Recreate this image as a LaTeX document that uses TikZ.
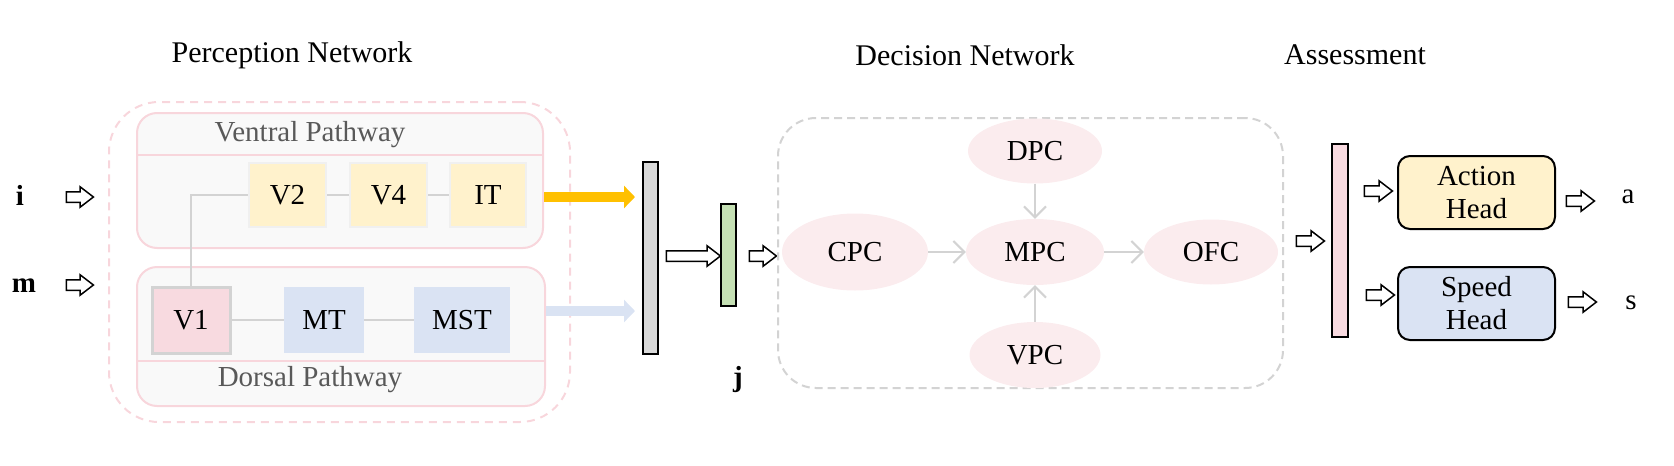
\documentclass[tikz,border=0pt]{standalone}
\usepackage{fontspec}
\setmainfont{Liberation Serif}
\usetikzlibrary{arrows.meta,shapes.geometric,shapes.arrows}
\definecolor{paneline}{RGB}{248,214,220}
\definecolor{paneback}{RGB}{249,249,249}
\definecolor{ventralfill}{RGB}{255,242,204}
\definecolor{dorsalfill}{RGB}{218,227,243}
\definecolor{vonefill}{RGB}{248,218,224}
\definecolor{areafill}{RGB}{251,236,238}
\definecolor{linkgray}{RGB}{211,211,211}
\definecolor{cellline}{RGB}{240,240,240}
\definecolor{labelgray}{RGB}{89,89,89}
\definecolor{ventralarrow}{RGB}{255,192,0}
\definecolor{jointfill}{RGB}{197,224,180}
\definecolor{fusefill}{RGB}{217,217,217}
\tikzset{
  txt/.style={font=\fontsize{29}{33}\selectfont},
  title/.style={font=\fontsize{30}{36}\selectfont},
  sym/.style={font=\fontsize{29}{33}\selectfont\bfseries},
  pane/.style={draw=paneline, line width=2pt, fill=paneback, rounded corners=20pt, minimum height=#1, inner sep=0pt},
  cell/.style={txt, fill=#1, minimum height=64pt, inner sep=0pt},
  region/.style={txt, ellipse, fill=areafill, minimum width=134pt, minimum height=65pt, inner sep=0pt},
  bar/.style={draw=black, line width=2pt, fill=#1, minimum width=15pt, inner sep=0pt},
  head/.style={txt, draw=black, line width=2pt, fill=#1, rounded corners=12pt, minimum width=157pt, minimum height=73pt, align=center},
  link/.style={draw=linkgray, line width=2pt},
  flow/.style={link, -{Straight Barb[length=11pt,width=22pt]}},
  feed/.style={draw=#1, line width=10pt, -{Triangle[length=11pt,width=22pt]}, shorten >=7pt},
  fat/.style={single arrow, draw=black, fill=white, line width=1.5pt, inner xsep=0pt, inner ysep=4.5pt, single arrow head extend=5pt, single arrow tip angle=75, minimum height=#1},
  fat/.default=27pt
}
\begin{document}
\begin{tikzpicture}[x=1pt,y=-1pt]
  \useasboundingbox (0,0) rectangle (1674,466);
  \node[title] (perception) at (292,55) {Perception Network};
  \node[title] (decision) at (965,55) {Decision Network};
  \node[title] (assessment) at (1355,55) {Assessment};
  \node[draw=paneline, line width=2pt, dash pattern=on 8pt off 6pt, rounded corners=50pt, minimum width=461pt, minimum height=320pt] (percbox) at (339.5,262) {};
  \node[pane=135pt, minimum width=406pt] (ventral) at (340,180.5) {};
  \draw[draw=paneline, line width=2pt] (ventral.west |- 0,155) -- (ventral.east |- 0,155);
  \node[txt, text=labelgray] (ventrallbl) at (310,135) {Ventral Pathway};
  \node[pane=139pt, minimum width=408pt] (dorsal) at (341,336.5) {};
  \draw[draw=paneline, line width=2pt] (dorsal.west |- 0,361) -- (dorsal.east |- 0,361);
  \node[txt, text=labelgray] (dorsallbl) at (310,380) {Dorsal Pathway};
  \node[cell=ventralfill, draw=cellline, line width=2.5pt, minimum width=77pt] (v2) at (287.5,195) {V2};
  \node[cell=ventralfill, draw=cellline, line width=2.5pt, minimum width=77pt] (v4) at (388.5,195) {V4};
  \node[cell=ventralfill, draw=cellline, line width=2.5pt, minimum width=76pt] (it) at (488,195) {IT};
  \node[cell=vonefill, draw=linkgray, line width=3pt, minimum width=78pt, minimum height=66pt] (v1) at (191,320) {V1};
  \node[cell=dorsalfill, minimum width=80pt, minimum height=66pt] (mt) at (324,320) {MT};
  \node[cell=dorsalfill, minimum width=96pt, minimum height=66pt] (mst) at (462,320) {MST};
  \draw[link] (v2.west) -| (v1.north);
  \draw[link] (v2.east) -- (v4.west);
  \draw[link] (v4.east) -- (it.west);
  \draw[link] (v1.east) -- (mt.west);
  \draw[link] (mt.east) -- (mst.west);
  \node[sym] (img) at (20,195) {i};
  \node[sym] (mot) at (24,286) {m};
  \node[fat] (imgarr) at (76.5,197) {};
  \node[fat] (motarr) at (76.5,285) {};
  \node[bar=fusefill, minimum height=192pt] (fuse) at (650.5,258) {};
  \node[bar=jointfill, minimum height=102pt] (joint) at (728.5,255) {};
  \node[sym] (jlbl) at (738,380) {j};
  \draw[feed=ventralarrow] (ventral.east |- 0,197) -- (fuse.west |- 0,197);
  \draw[feed=dorsalfill] (dorsal.east |- 0,311) -- (fuse.west |- 0,311);
  \node[fat=54pt] (fusearr) at (690,256) {};
  \node[fat] (jointarr) at (759.5,256) {};
  \node[draw=linkgray, line width=2pt, dash pattern=on 8pt off 5pt, rounded corners=38pt, minimum width=505pt, minimum height=270pt] (decbox) at (1030.5,253) {};
  \node[region] (dpc) at (1035,151) {DPC};
  \node[region, minimum width=138pt, minimum height=66pt] (mpc) at (1035,252) {MPC};
  \node[region, minimum width=146pt, minimum height=77pt] (cpc) at (855,252) {CPC};
  \node[region] (ofc) at (1211,252) {OFC};
  \node[region, minimum width=131pt, minimum height=66pt] (vpc) at (1035,355) {VPC};
  \draw[flow] (cpc) -- (mpc);
  \draw[flow] (mpc) -- (ofc);
  \draw[flow] (dpc) -- (mpc);
  \draw[flow] (vpc) -- (mpc);
  \node[fat=28pt] (decarr) at (1307,241) {};
  \node[bar=vonefill, minimum width=16pt, minimum height=193pt] (assess) at (1340,240.5) {};
  \node[fat=28pt] (actarr) at (1375,191) {};
  \node[fat=28pt] (spdarr) at (1377,295) {};
  \node[head=ventralfill] (action) at (1476.5,192.5) {Action\\Head};
  \node[head=dorsalfill] (speed) at (1476.5,303.5) {Speed\\Head};
  \node[fat=28pt] (aarr) at (1577,201) {};
  \node[fat=28pt] (sarr) at (1579,302) {};
  \node[txt] (alabel) at (1628,197) {a};
  \node[txt] (slabel) at (1631,303) {s};
\end{tikzpicture}
\end{document}
